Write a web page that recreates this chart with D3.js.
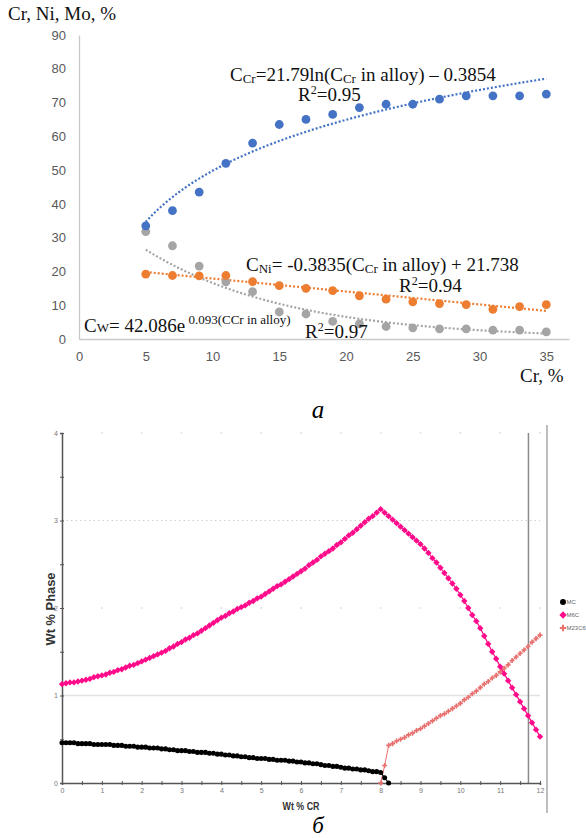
<!DOCTYPE html>
<html>
<head>
<meta charset="utf-8">
<script src="https://cdn.jsdelivr.net/npm/d3@7"></script>
<style>
body { margin: 0; background: #fff; }
</style>
</head>
<body>
<div id="chart-area"></div>
<script>
// ---- chart (а): phase composition vs Cr in alloy ----
var crAlloy = [5, 7, 9, 11, 13, 15, 17, 19, 21, 23, 25, 27, 29, 31, 33, 35];
var crPhase = [33.5, 38, 43.5, 52, 58, 63.5, 65, 66.5, 68.5, 69.5, 69.5, 71, 72, 72, 72, 72.5];
var niPhase = [19.2, 18.8, 18.7, 18.8, 17, 15.8, 15, 14.3, 12.8, 11.8, 11, 10.5, 10.2, 8.8, 9.6, 10.2];
var wPhase = [31.8, 27.6, 21.6, 16.9, 14, 8, 7.4, 5.2, 4.5, 3.7, 3.3, 3, 3, 2.6, 2.6, 2.1];
var crFit = [21.79, -0.3854];   // a*ln(x) + b
var niFit = [-0.3835, 21.738];  // a*x + b
var wFit = [42.086, -0.093];    // a*exp(b*x)
var topXTicks = [0, 5, 10, 15, 20, 25, 30, 35];
var topYTicks = [0, 10, 20, 30, 40, 50, 60, 70, 80, 90];

// ---- chart (б): Wt % phase vs Wt % CR, step 0.1 ----
var wtStep = 0.1;
var m6cStart = 0;
var m6c = [1.13, 1.14, 1.15, 1.15, 1.16, 1.17, 1.18, 1.19, 1.21, 1.22,
  1.23, 1.24, 1.26, 1.27, 1.29, 1.30, 1.32, 1.34, 1.35, 1.37,
  1.39, 1.41, 1.43, 1.45, 1.47, 1.49, 1.51, 1.54, 1.56, 1.59,
  1.61, 1.64, 1.66, 1.69, 1.71, 1.74, 1.77, 1.80, 1.83, 1.86,
  1.89, 1.91, 1.94, 1.96, 1.99, 2.01, 2.03, 2.06, 2.08, 2.11,
  2.13, 2.16, 2.19, 2.22, 2.25, 2.27, 2.30, 2.33, 2.36, 2.39,
  2.42, 2.45, 2.49, 2.52, 2.55, 2.59, 2.62, 2.65, 2.68, 2.72,
  2.75, 2.79, 2.83, 2.86, 2.90, 2.94, 2.98, 3.02, 3.05, 3.09,
  3.13, 3.09, 3.05, 3.01, 2.97, 2.93, 2.89, 2.85, 2.81, 2.77,
  2.73, 2.68, 2.63, 2.57, 2.52, 2.46, 2.40, 2.34, 2.28, 2.22,
  2.15, 2.08, 2.00, 1.92, 1.85, 1.77, 1.68, 1.59, 1.50, 1.42,
  1.33, 1.25, 1.17, 1.09, 1.01, 0.93, 0.85, 0.77, 0.69, 0.61, 0.53];
var mcStart = 0;
var mc = [0.46, 0.46, 0.46, 0.46, 0.45, 0.45, 0.45, 0.45, 0.44, 0.44,
  0.44, 0.44, 0.44, 0.43, 0.43, 0.43, 0.42, 0.42, 0.42, 0.41,
  0.41, 0.41, 0.40, 0.40, 0.40, 0.39, 0.39, 0.38, 0.38, 0.37,
  0.37, 0.37, 0.36, 0.36, 0.35, 0.35, 0.35, 0.34, 0.34, 0.33,
  0.33, 0.32, 0.32, 0.31, 0.31, 0.30, 0.30, 0.29, 0.29, 0.28,
  0.28, 0.28, 0.27, 0.27, 0.26, 0.26, 0.26, 0.25, 0.25, 0.24,
  0.24, 0.23, 0.23, 0.22, 0.22, 0.21, 0.20, 0.20, 0.19, 0.19,
  0.18, 0.17, 0.17, 0.16, 0.16, 0.15, 0.15, 0.14, 0.13, 0.13,
  0.12, 0.06, 0.0];
var m23c6Start = 8.0;
var m23c6 = [0.0, 0.20, 0.43, 0.45, 0.48, 0.50, 0.52, 0.55, 0.57, 0.60,
  0.62, 0.65, 0.68, 0.71, 0.74, 0.77, 0.79, 0.82, 0.85, 0.88,
  0.91, 0.95, 0.98, 1.02, 1.05, 1.09, 1.13, 1.16, 1.20, 1.23,
  1.27, 1.31, 1.35, 1.40, 1.44, 1.48, 1.52, 1.56, 1.61, 1.65, 1.69];
var cursorAt = 11.71;
var legendNames = ["MC", "M6C", "M23C6"];

var svg = d3.select("#chart-area").append("svg")
    .attr("width", 586)
    .attr("height", 838);

svg.append("rect").attr("width", 586).attr("height", 838).attr("fill", "#fff");

// ================= chart а =================
var x1 = d3.scaleLinear().domain([0, 36.7]).range([79, 569]);
var y1 = d3.scaleLinear().domain([0, 90]).range([339, 35]);
var serif = "'Liberation Serif', 'Times New Roman', serif";

var yAx = svg.append("g").attr("transform", "translate(79,0)")
    .call(d3.axisLeft(y1).tickValues(topYTicks).tickSize(0).tickPadding(13));
var xAx = svg.append("g").attr("transform", "translate(0,339)")
    .call(d3.axisBottom(x1).tickValues(topXTicks).tickSize(0).tickPadding(13));
[yAx, xAx].forEach(function(g) {
    g.select(".domain").attr("stroke", "#c9c9c9").attr("stroke-width", 1.3);
    g.selectAll("text").attr("fill", "#595959")
        .style("font-family", "'Liberation Sans', Arial, sans-serif").style("font-size", "13px");
});

// trendlines
var fitX = d3.range(5, 35.01, 0.25);
var trends = [
    { color: "#4472C4", f: function(v) { return crFit[0] * Math.log(v) + crFit[1]; } },
    { color: "#ED7D31", f: function(v) { return niFit[0] * v + niFit[1]; } },
    { color: "#A5A5A5", f: function(v) { return wFit[0] * Math.exp(wFit[1] * v); } }
];
trends.forEach(function(t) {
    svg.append("path")
        .datum(fitX)
        .attr("fill", "none")
        .attr("stroke", t.color)
        .attr("stroke-width", 2.2)
        .attr("stroke-dasharray", "2,2")
        .attr("d", d3.line().x(function(d) { return x1(d); }).y(function(d) { return y1(t.f(d)); }));
});

// points
var series1 = [
    { vals: wPhase, color: "#A5A5A5" },
    { vals: niPhase, color: "#ED7D31" },
    { vals: crPhase, color: "#4472C4" }
];
series1.forEach(function(s) {
    svg.append("g").selectAll("circle")
        .data(s.vals)
        .enter()
        .append("circle")
        .attr("cx", function(d, i) { return x1(crAlloy[i]); })
        .attr("cy", function(d) { return y1(d); })
        .attr("r", 4.4)
        .attr("fill", s.color);
});

// texts
function rich(x, y, parts) {
    var t = svg.append("text").attr("x", x).attr("y", y)
        .style("font-family", serif).attr("fill", "#111");
    parts.forEach(function(p) {
        t.append("tspan").text(p[0]).style("font-size", p[1] + "px").attr("dy", p[2] || 0);
    });
    return t;
}
rich(8, 20, [["Cr, Ni, Mo, %", 19]]);
rich(520, 382, [["Cr, %", 19]]);
rich(230, 81, [["C", 19], ["Cr", 13, 2], ["=21.79ln(C", 19, -2], ["Cr", 13, 2], [" in alloy) \u2013 0.3854", 19, -2]]);
rich(298, 101, [["R", 19], ["2", 12, -7], ["=0.95", 19, 7]]);
rich(246, 271, [["C", 19], ["Ni", 13, 2], ["= -0.3835(C", 19, -2], ["Cr", 13, 2], [" in alloy) + 21.738", 19, -2]]);
rich(399, 292, [["R", 19], ["2", 12, -7], ["=0.94", 19, 7]]);
rich(84, 332, [["C", 19], ["W", 13], ["= 42.086e", 19], [" 0.093(CCr in alloy)", 13, -8]]);
rich(305, 338, [["R", 19], ["2", 12, -7], ["=0.97", 19, 7]]);
svg.append("text").attr("x", 318).attr("y", 418).attr("text-anchor", "middle")
    .style("font-family", serif).style("font-style", "italic").style("font-size", "25px")
    .text("а");

// ================= chart б =================
var x2 = d3.scaleLinear().domain([0, 12]).range([62, 540]);
var y2 = d3.scaleLinear().domain([0, 4]).range([783, 433]);
var sans = "'Liberation Sans', Arial, sans-serif";

// grid
svg.append("line").attr("x1", x2(0)).attr("x2", x2(12)).attr("y1", y2(1)).attr("y2", y2(1))
    .attr("stroke", "#e2e2e2").attr("stroke-width", 1.3);
svg.append("line").attr("x1", x2(0)).attr("x2", x2(12)).attr("y1", y2(3)).attr("y2", y2(3))
    .attr("stroke", "#cfcfcf").attr("stroke-width", 1).attr("stroke-dasharray", "1.5,3");
[2, 4].forEach(function(g) {
    svg.append("g").selectAll("line").data(d3.range(1, 12.01, 1)).enter().append("line")
        .attr("x1", function(d) { return x2(d) - 1; }).attr("x2", function(d) { return x2(d) + 1; })
        .attr("y1", y2(g)).attr("y2", y2(g))
        .attr("stroke", "#d0d0d0").attr("stroke-width", 1);
});

// cursor and frame lines
svg.append("line").attr("x1", x2(cursorAt)).attr("x2", x2(cursorAt)).attr("y1", y2(4)).attr("y2", y2(0))
    .attr("stroke", "#8a8a8a").attr("stroke-width", 1.5);
svg.append("line").attr("x1", 547).attr("x2", 547).attr("y1", 425).attr("y2", 813)
    .attr("stroke", "#bdbdbd").attr("stroke-width", 2);

// axes
var fmt = function(d) { return d % 1 === 0 ? d : ""; };
var xAx2 = svg.append("g").attr("transform", "translate(0," + y2(0) + ")")
    .call(d3.axisBottom(x2).tickValues(d3.range(0, 12.01, 0.5)).tickFormat(fmt).tickSize(2).tickPadding(3));
var yAx2 = svg.append("g").attr("transform", "translate(" + x2(0) + ",0)")
    .call(d3.axisLeft(y2).tickValues(d3.range(0, 4.01, 0.5)).tickFormat(fmt).tickSize(2).tickPadding(2));
[xAx2, yAx2].forEach(function(g) {
    g.select(".domain").attr("stroke", "#555").attr("stroke-width", 1.5);
    g.selectAll(".tick line").attr("stroke", "#555");
    g.selectAll("text").attr("fill", "#777").style("font-family", sans).style("font-size", "7px");
});
xAx2.selectAll(".tick line").attr("y1", -2);
yAx2.selectAll(".tick line").attr("x1", 2);

// series
function toPts(vals, start) {
    return vals.map(function(v, i) { return [start + i * wtStep, v]; });
}
var line2 = d3.line().x(function(d) { return x2(d[0]); }).y(function(d) { return y2(d[1]); });
var series2 = [
    { name: "M23C6", pts: toPts(m23c6, m23c6Start), color: "#e8706f", sym: d3.symbolCross, size: 14, lw: 1 },
    { name: "MC", pts: toPts(mc, mcStart), color: "#000", sym: d3.symbolCircle, size: 20, lw: 1.2 },
    { name: "M6C", pts: toPts(m6c, m6cStart), color: "#ff0a8a", sym: d3.symbolDiamond2, size: 26, lw: 1.2 }
];
series2.forEach(function(s) {
    svg.append("path").datum(s.pts).attr("fill", "none").attr("stroke", s.color)
        .attr("stroke-width", s.lw).attr("d", line2);
    svg.append("g").selectAll("path").data(s.pts).enter().append("path")
        .attr("transform", function(d) { return "translate(" + x2(d[0]) + "," + y2(d[1]) + ")"; })
        .attr("d", d3.symbol().type(s.sym).size(s.size))
        .attr("fill", s.color);
});

// titles
svg.append("text").attr("x", x2(6)).attr("y", 810).attr("text-anchor", "middle")
    .attr("textLength", 37).attr("lengthAdjust", "spacingAndGlyphs")
    .style("font-family", sans).style("font-weight", "bold").style("font-size", "11px")
    .attr("fill", "#333").text("Wt % CR");
svg.append("text").attr("transform", "translate(55,609) rotate(-90)").attr("text-anchor", "middle")
    .attr("textLength", 73).attr("lengthAdjust", "spacingAndGlyphs")
    .style("font-family", sans).style("font-weight", "bold").style("font-size", "12px")
    .attr("fill", "#333").text("Wt % Phase");

// legend
var legendSeries = [series2[1], series2[2], series2[0]];
legendSeries.forEach(function(s, i) {
    var ly = 602 + i * 13;
    svg.append("path").attr("transform", "translate(563," + ly + ")")
        .attr("d", d3.symbol().type(s.sym).size(s.size + 8)).attr("fill", s.color);
    svg.append("text").attr("x", 566.5).attr("y", ly + 2.3)
        .style("font-family", sans).style("font-size", "6px").attr("fill", "#666")
        .text(legendNames[i]);
});

svg.append("text").attr("x", 318).attr("y", 833).attr("text-anchor", "middle")
    .style("font-family", serif).style("font-style", "italic").style("font-size", "23px")
    .text("б");
</script>
</body>
</html>
